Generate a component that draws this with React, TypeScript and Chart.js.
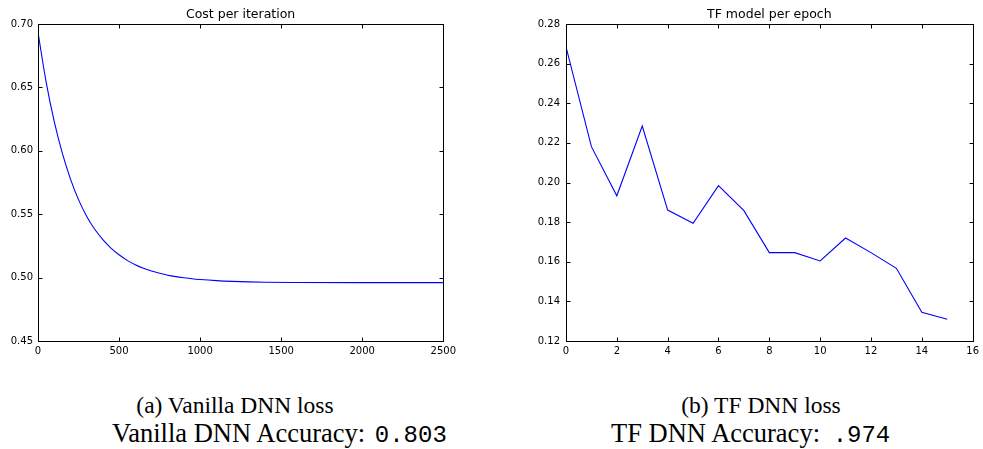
import React, { useEffect, useRef } from "react";
import { Chart, registerables } from "chart.js";

Chart.register(...registerables);

// ---- Data ----
const vanillaIterations = [0, 50, 100, 150, 200, 250, 300, 350, 400, 450, 500, 550, 600, 650, 700, 750, 800, 850, 900, 950, 1000, 1100, 1200, 1300, 1400, 1600, 2000, 2500];
const vanillaCost = [0.6934, 0.6544, 0.6232, 0.5981, 0.5779, 0.5615, 0.5484, 0.5381, 0.5300, 0.5233, 0.5180, 0.5136, 0.5102, 0.5074, 0.5052, 0.5034, 0.5019, 0.5008, 0.4999, 0.4991, 0.4985, 0.4976, 0.4970, 0.4966, 0.4963, 0.4961, 0.4960, 0.4960];

const tfEpochs = [0, 1, 2, 3, 4, 5, 6, 7, 8, 9, 10, 11, 12, 13, 14, 15];
const tfLoss = [0.2685, 0.2181, 0.1933, 0.2285, 0.1861, 0.1794, 0.1984, 0.1858, 0.1646, 0.1646, 0.1604, 0.172, 0.1646, 0.1567, 0.1345, 0.131];

const leftTitle = "Cost per iteration";
const rightTitle = "TF model per epoch";

const captionA = "(a) Vanilla DNN loss";
const accuracyALabel = "Vanilla DNN Accuracy: ";
const accuracyAValue = "0.803";
const captionB = "(b) TF DNN loss";
const accuracyBLabel = "TF DNN Accuracy: ";
const accuracyBValue = ".974";

const framePlugin = {
  id: "mplFrame",
  afterDatasetsDraw(chart: any) {
    const { ctx, chartArea: a, scales } = chart;
    const L = 4;
    ctx.save();
    ctx.strokeStyle = "#000";
    ctx.lineWidth = 1;
    const left = Math.round(a.left) + 0.5;
    const right = Math.round(a.right) + 0.5;
    const top = Math.round(a.top) + 0.5;
    const bottom = Math.round(a.bottom) + 0.5;
    ctx.beginPath();
    scales.x.ticks.forEach((t: any) => {
      const px = Math.round(scales.x.getPixelForValue(t.value)) + 0.5;
      ctx.moveTo(px, bottom);
      ctx.lineTo(px, bottom - L);
      ctx.moveTo(px, top);
      ctx.lineTo(px, top + L);
    });
    scales.y.ticks.forEach((t: any) => {
      const py = Math.round(scales.y.getPixelForValue(t.value)) + 0.5;
      ctx.moveTo(left, py);
      ctx.lineTo(left + L, py);
      ctx.moveTo(right, py);
      ctx.lineTo(right - L, py);
    });
    ctx.stroke();
    ctx.strokeRect(left, top, right - left, bottom - top);
    ctx.restore();
  },
};

type Cfg = {
  xs: number[];
  ys: number[];
  title: string;
  xMin: number;
  xMax: number;
  xStep: number;
  yMin: number;
  yMax: number;
  yStep: number;
  yWidth: number;
  xHeight: number;
  padRight: number;
  yPad: number;
  smooth: boolean;
};

function LineChart({ cfg, width, height, left }: { cfg: Cfg; width: number; height: number; left: number }) {
  const ref = useRef<HTMLCanvasElement>(null);
  useEffect(() => {
    if (!ref.current) return;
    const ds: any = {
      data: cfg.xs.map((x, i) => ({ x, y: cfg.ys[i] })),
      borderColor: "#0000ff",
      borderWidth: 1.1,
      pointRadius: 0,
      fill: false,
      tension: 0,
    };
    if (cfg.smooth) ds.cubicInterpolationMode = "monotone";
    const chart = new Chart(ref.current, {
      type: "line",
      data: { datasets: [ds] },
      options: {
        animation: false,
        responsive: false,
        devicePixelRatio: 1,
        layout: { padding: { top: 0, left: 0, right: cfg.padRight, bottom: 0 } },
        plugins: {
          legend: { display: false },
          tooltip: { enabled: false },
          title: {
            display: true,
            text: cfg.title,
            fullSize: false,
            color: "#000",
            font: { family: "DejaVu Sans", size: 12.5, weight: "normal" },
            padding: { top: 7, bottom: 2 },
          } as any,
        },
        scales: {
          x: {
            type: "linear",
            min: cfg.xMin,
            max: cfg.xMax,
            grid: { display: false, drawTicks: false },
            border: { display: false },
            ticks: {
              stepSize: cfg.xStep,
              color: "#000",
              padding: 4,
              maxRotation: 0,
              font: { family: "DejaVu Sans", size: 10 },
              callback: (v: any) => String(Math.round(Number(v))),
            },
            afterFit: (s: any) => {
              s.height = cfg.xHeight;
            },
          },
          y: {
            type: "linear",
            min: cfg.yMin,
            max: cfg.yMax,
            grid: { display: false, drawTicks: false },
            border: { display: false },
            ticks: {
              stepSize: cfg.yStep,
              color: "#000",
              padding: cfg.yPad,
              font: { family: "DejaVu Sans", size: 10 },
              callback: (v: any) => Number(v).toFixed(2),
            },
            afterFit: (s: any) => {
              s.width = cfg.yWidth;
            },
          },
        },
      },
      plugins: [framePlugin],
    } as any);
    return () => chart.destroy();
  }, []);
  return (
    <canvas
      ref={ref}
      width={width}
      height={height}
      style={{ position: "absolute", left, top: 0, width, height }}
    />
  );
}

const serif = "'Liberation Serif', 'Times New Roman', serif";
const mono = "'Liberation Mono', 'DejaVu Sans Mono', monospace";

export default function App() {
  const leftCfg: Cfg = {
    xs: vanillaIterations,
    ys: vanillaCost,
    title: leftTitle,
    xMin: 0,
    xMax: 2500,
    xStep: 500,
    yMin: 0.45,
    yMax: 0.7,
    yStep: 0.05,
    yWidth: 38,
    xHeight: 19,
    padRight: 13,
    yPad: 5,
    smooth: true,
  };
  const rightCfg: Cfg = {
    xs: tfEpochs,
    ys: tfLoss,
    title: rightTitle,
    xMin: 0,
    xMax: 16,
    xStep: 2,
    yMin: 0.12,
    yMax: 0.28,
    yStep: 0.02,
    yWidth: 46,
    xHeight: 19,
    padRight: 8,
    yPad: 6,
    smooth: false,
  };
  const capStyle: React.CSSProperties = {
    position: "absolute",
    fontFamily: serif,
    fontSize: 23.5,
    lineHeight: "23.5px",
    whiteSpace: "pre",
    color: "#000",
  };
  const cap2Style: React.CSSProperties = { ...capStyle, fontSize: 26.5, lineHeight: "26.5px" };
  const monoStyle: React.CSSProperties = { fontFamily: mono, fontSize: 24 };
  return (
    <div style={{ position: "absolute", left: 0, top: 0, width: 983, height: 449, background: "#fff", overflow: "hidden" }}>
      <LineChart cfg={leftCfg} width={460} height={360} left={0} />
      <LineChart cfg={rightCfg} width={463} height={360} left={520} />
      <div style={{ ...capStyle, left: 35, width: 400, top: 394, textAlign: "center" }}>{captionA}</div>
      <div style={{ ...cap2Style, left: 112, top: 420 }}>
        {accuracyALabel}
        <span style={{ ...monoStyle, marginLeft: 3 }}>{accuracyAValue}</span>
      </div>
      <div style={{ ...capStyle, left: 561, width: 400, top: 394, textAlign: "center" }}>{captionB}</div>
      <div style={{ ...cap2Style, left: 611, top: 420 }}>
        {accuracyBLabel}
        <span style={{ ...monoStyle, marginLeft: 6 }}>{accuracyBValue}</span>
      </div>
    </div>
  );
}
